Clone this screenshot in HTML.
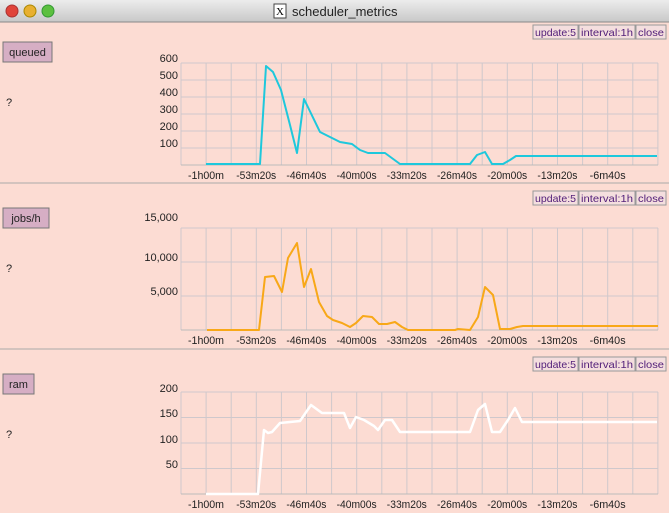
<!DOCTYPE html>
<html><head><meta charset="utf-8"><style>
body{margin:0;width:669px;height:513px;overflow:hidden;background:#fcdcd3;font-family:"Liberation Sans",sans-serif}
svg{position:absolute;left:0;top:0}
</style></head><body>
<svg id="s" width="669" height="513" xmlns="http://www.w3.org/2000/svg">
<defs><linearGradient id="tb" x1="0" y1="0" x2="0" y2="1"><stop offset="0" stop-color="#ececec"/><stop offset="1" stop-color="#c8c8c8"/></linearGradient></defs>
<rect x="0" y="0" width="669" height="22" fill="url(#tb)"/>
<line x1="0" y1="22" x2="669" y2="22" stroke="#888"/>
<circle cx="12" cy="11" r="6" fill="#e0443a" stroke="#a33"/>
<circle cx="30" cy="11" r="6" fill="#e8b030" stroke="#a80"/>
<circle cx="48" cy="11" r="6" fill="#5cc040" stroke="#393"/>
<rect x="274" y="4" width="12" height="14" fill="#fff" stroke="#444"/>
<text x="280" y="15" font-size="11" text-anchor="middle" font-family="Liberation Serif">X</text>
<text x="292" y="16" font-size="13" fill="#222">scheduler_metrics</text>
<line x1="0" y1="183" x2="669" y2="183" stroke="#aaa"/>
<line x1="0" y1="349" x2="669" y2="349" stroke="#aaa"/>
<g id="g"></g>
</svg>
<script>
const g=document.getElementById('g');let h='';
function T(x,y,t,a,sz,c,w){h+=`<text x="${x}" y="${y}" font-size="${sz||11}" fill="${c||'#222'}" text-anchor="${a||'start'}"${w?` textLength="${w}" lengthAdjust="spacingAndGlyphs"`:''}>${t}</text>`;}
function panel(oy,name,nw,ylabels,top,base,hstep,pts,col,lw){
 const bx=[[533,45,'update:5'],[579,56,'interval:1h'],[636,30,'close']];
 for(const [x,w,t] of bx){h+=`<rect x="${x}" y="${oy+25}" width="${w}" height="14" fill="#f4dede" stroke="#999"/>`;T(x+w/2,oy+36,t,'middle',10.5,'#53207a',w-4);}
 h+=`<rect x="3" y="${oy+42}" width="${nw}" height="20" fill="#d6aec4" stroke="#777"/>`;
 T(3+nw/2,oy+56,name,'middle',11);
 T(6,oy+106,'?','start',11);
 for(let x=181;x<=658;x+=25.1)h+=`<line x1="${x}" y1="${top}" x2="${x}" y2="${base}" stroke="#cfc8cc"/>`;
 for(let y=top;y<=base+0.5;y+=hstep)h+=`<line x1="181" y1="${y}" x2="658" y2="${y}" stroke="#cfc8cc"/>`;
 h+=`<line x1="181" y1="${base}" x2="658" y2="${base}" stroke="#bbb"/>`;
 for(const [t,y] of ylabels)T(178,y+4,t,'end',11);
 const lab=['-1h00m','-53m20s','-46m40s','-40m00s','-33m20s','-26m40s','-20m00s','-13m20s','-6m40s'];
 lab.forEach((t,i)=>T(206+50.2*i,base+14,t,'middle',11,'#222',t.length>6?40:36));
 h+=`<polyline fill="none" stroke="${col}" stroke-width="${lw}" stroke-linejoin="round" points="${pts}"/>`;
}
panel(0,'queued',49,[['600',58],['500',75],['400',92],['300',109],['200',126],['100',143]],63,165,17,
'206,164 260,164 266,66 273,72 281,90 290,125 297,153 304,99 320,132 330,137 340,142 352,144 360,150 368,153 385,153 400,164 470,164 477,155 485,152 492,164 503,164 510,160 516,156 657,156','#1ec8dc',2);
panel(166,'jobs/h',46,[['15,000',217],['10,000',257],['5,000',291]],228,330,34,
'207,330 259,330 265,277 274,276 282,292 288,258 297,243 304,287 311,269 319,302 327,316 333,320 342,323 350,327 356,323 363,316 372,317 379,324 387,324 395,322 402,327 408,330 455,330 458,329 470,330 478,317 485,287 493,295 500,329 510,329 517,327 523,326 658,326','#f8a818',2);
panel(332,'ram',31,[['200',388],['150',413],['100',439],['50',464]],392,494,25.5,
'206,494 258,494 264,430 268,433 272,432 280,423 290,422 300,421 311,405 322,413 344,413 350,428 356,417 364,420 374,426 378,430 385,420 392,420 400,432 470,432 478,410 485,404 492,432 500,432 508,420 515,408 522,422 657,422','#ffffff',2.5);
g.innerHTML=h;
</script>
</body></html>
